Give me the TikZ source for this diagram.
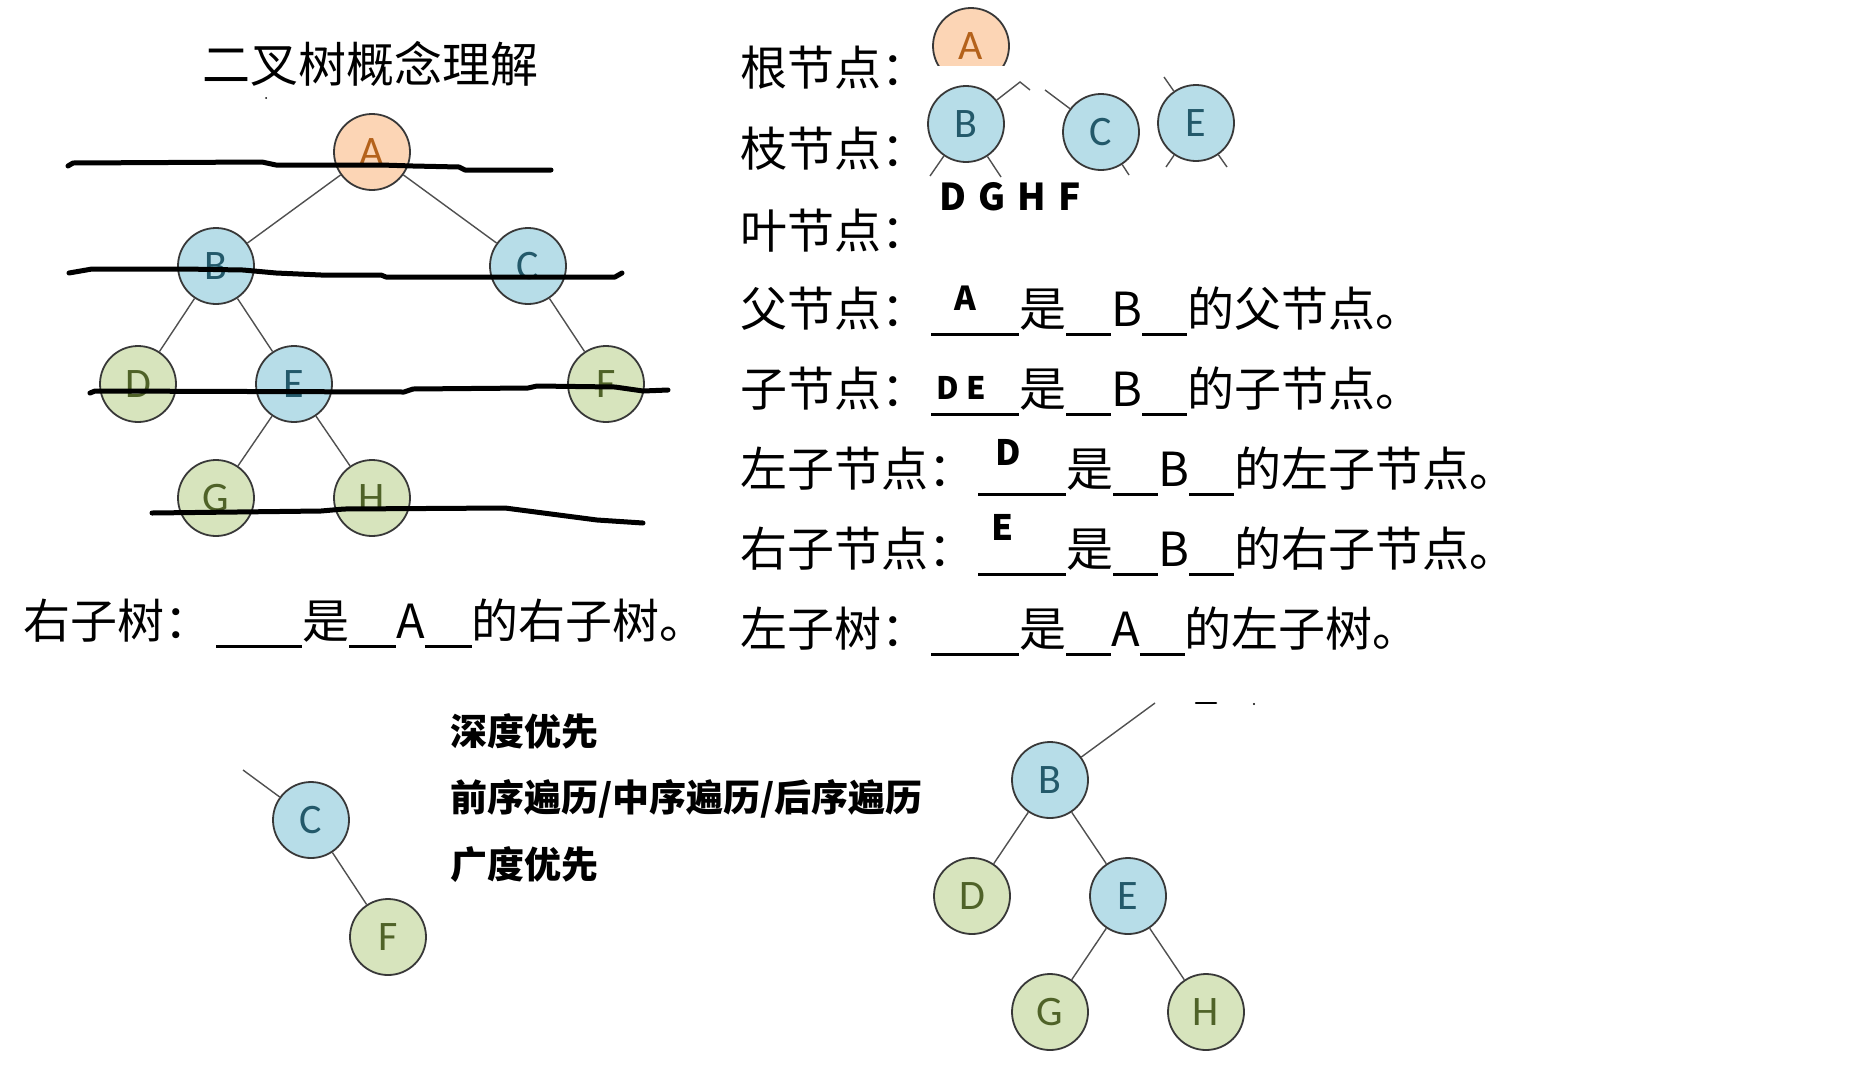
\documentclass[tikz,border=0pt]{standalone}
\usepackage{fontspec}
\setmainfont{Noto Sans CJK SC}
\newfontfamily\letterfont{Carlito}
\newcommand\blankline[1]{\rule[-10pt]{#1pt}{2.8pt}}
\definecolor{nblue}{HTML}{B7DDE8}
\definecolor{tblue}{HTML}{23596A}
\definecolor{ngreen}{HTML}{D7E4BD}
\definecolor{tgreen}{HTML}{4F6228}
\definecolor{npeach}{HTML}{FCD5B5}
\definecolor{tpeach}{HTML}{B4621B}
\definecolor{nborder}{HTML}{383838}
\definecolor{egray}{HTML}{505050}
\begin{document}
\begin{tikzpicture}[x=1pt,y=-1pt,
  tnode/.style={circle, draw=nborder, line width=1.8pt, minimum size=76pt, inner sep=0pt, font=\letterfont\fontsize{42}{42}\selectfont},
  bluenode/.style={tnode, fill=nblue, text=tblue},
  greennode/.style={tnode, fill=ngreen, text=tgreen},
  peachnode/.style={tnode, fill=npeach, text=tpeach},
  edge/.style={draw=egray, line width=1.4pt},
  strike/.style={line width=5pt, line join=round, line cap=round},
  cjk/.style={anchor=base west, inner sep=0pt, font=\fontsize{47}{56}\selectfont},
  bcjk/.style={anchor=base west, inner sep=0pt, font=\bfseries\fontsize{37}{40}\selectfont},
  ans/.style={inner sep=0pt, font=\bfseries\fontsize{35}{35}\selectfont}]
\useasboundingbox (0,0) rectangle (1854,1090);
\fill[white] (0,0) rectangle (1854,1090);

% ---------- title ----------
\node[anchor=base, inner sep=0pt, font=\fontsize{48}{56}\selectfont] (title) at (370,82) {二叉树概念理解};
\fill (266,98) circle (1pt);

% ---------- left tree ----------
\node[peachnode] (A) at (372,152) {A};
\node[bluenode] (B) at (216,266) {B};
\node[bluenode] (C) at (528,266) {C};
\node[greennode] (D) at (138,384) {D};
\node[bluenode] (E) at (294,384) {E};
\node[greennode] (F) at (606,384) {F};
\node[greennode] (G) at (216,498) {G};
\node[greennode] (H) at (372,498) {H};
\draw[edge] (A) -- (B);
\draw[edge] (A) -- (C);
\draw[edge] (B) -- (D);
\draw[edge] (B) -- (E);
\draw[edge] (C) -- (F);
\draw[edge] (E) -- (G);
\draw[edge] (E) -- (H);

% strike lines
\draw[strike] (68,166) -- (73,163) -- (262,162) -- (276,165) -- (381,165) -- (413,166) -- (459,167) -- (465,170) -- (551,170);
\draw[strike] (69,273) -- (92,269) -- (184,269) -- (243,270) -- (276,273) -- (321,275) -- (381,275) -- (386,277) -- (615,277) -- (622,273);
\draw[strike] (90,393) -- (95,391) -- (404,392) -- (413,389) -- (528,388) -- (537,386) -- (615,387) -- (643,391) -- (668,390);
\draw[strike] (152,513) -- (321,511) -- (344,509) -- (505,508) -- (551,514) -- (597,520) -- (643,523);

% left bottom sentence
\node[cjk] (rst) at (23,638) {右子树：\hspace{5pt}\blankline{86}是\blankline{47}A\blankline{47}的右子树。};

% ---------- right column ----------
\node[cjk] (l1) at (740,85) {根节点：};
\node[cjk] (l2) at (740,166) {枝节点：};
\node[cjk] (l3) at (740,248) {叶节点：};
\node[cjk] (l4) at (740,326) {父节点：\hspace{3pt}\blankline{88}是\blankline{45}B\blankline{45}的父节点。};
\node[cjk] (l5) at (740,406) {子节点：\hspace{3pt}\blankline{88}是\blankline{45}B\blankline{45}的子节点。};
\node[cjk] (l6) at (740,486) {左子节点：\hspace{3pt}\blankline{88}是\blankline{45}B\blankline{45}的左子节点。};
\node[cjk] (l7) at (740,566) {右子节点：\hspace{3pt}\blankline{88}是\blankline{45}B\blankline{45}的右子节点。};
\node[cjk] (l8) at (740,646) {左子树：\hspace{3pt}\blankline{88}是\blankline{45}A\blankline{45}的左子树。};

% answers
\node[ans, font=\bfseries\fontsize{33}{33}\selectfont] (a1) at (965,298) {A};
\node[ans, font=\bfseries\fontsize{31}{31}\selectfont] (a2) at (961,388) {D\hspace{7pt}E};
\node[ans] (a3) at (1008,452) {D};
\node[ans] (a4) at (1003,527) {E};
\node[ans, font=\bfseries\fontsize{37}{37}\selectfont] (leaves) at (1010,197) {D\hspace{12pt}G\hspace{12pt}H\hspace{12pt}F};

% cropped root A
\begin{scope}
  \clip (900,0) rectangle (1060,65);
  \node[peachnode] (rA) at (971,46) {A};
\end{scope}

% cropped branch nodes
\node[bluenode] (rB) at (966,124) {B};
\node[bluenode] (rC) at (1101,132) {C};
\node[bluenode] (rE) at (1196,123) {E};
\coordinate (rb1) at (1020,82);
\coordinate (rb2) at (1030,90);
\coordinate (rb3) at (930,176);
\coordinate (rb4) at (1001,177);
\coordinate (rc1) at (1045,90);
\coordinate (rc2) at (1129,175);
\coordinate (re1) at (1164,77);
\coordinate (re2) at (1166,167);
\coordinate (re3) at (1227,167);
\draw[edge] (rB) -- (rb1) -- (rb2);
\draw[edge] (rB) -- (rb3);
\draw[edge] (rB) -- (rb4);
\draw[edge] (rC) -- (rc1);
\draw[edge] (rC) -- (rc2);
\draw[edge] (rE) -- (re1);
\draw[edge] (rE) -- (re2);
\draw[edge] (rE) -- (re3);

% ---------- bottom texts ----------
\node[bcjk] (dfs) at (450,745) {深度优先};
\node[bcjk] (ord) at (450,811) {前序遍历/中序遍历/后序遍历};
\node[bcjk] (bfs) at (450,878) {广度优先};

% ---------- bottom-left subtree ----------
\node[bluenode] (sC) at (311,820) {C};
\node[greennode] (sF) at (388,937) {F};
\coordinate (sc1) at (243,770);
\draw[edge] (sC) -- (sc1);
\draw[edge] (sC) -- (sF);

% ---------- bottom-right subtree ----------
\node[bluenode] (tB) at (1050,780) {B};
\node[greennode] (tD) at (972,896) {D};
\node[bluenode] (tE) at (1128,896) {E};
\node[greennode] (tG) at (1050,1012) {G};
\node[greennode] (tH) at (1206,1012) {H};
\coordinate (tb1) at (1155,703);
\draw[edge] (tB) -- (tb1);
\draw[edge] (tB) -- (tD);
\draw[edge] (tB) -- (tE);
\draw[edge] (tE) -- (tG);
\draw[edge] (tE) -- (tH);
\coordinate (dash1) at (1196,703);
\coordinate (dash2) at (1216,703);
\draw[line width=2.5pt, line cap=round] (dash1) -- (dash2);
\fill (1254,704) circle (1.2pt);
\end{tikzpicture}
\end{document}
